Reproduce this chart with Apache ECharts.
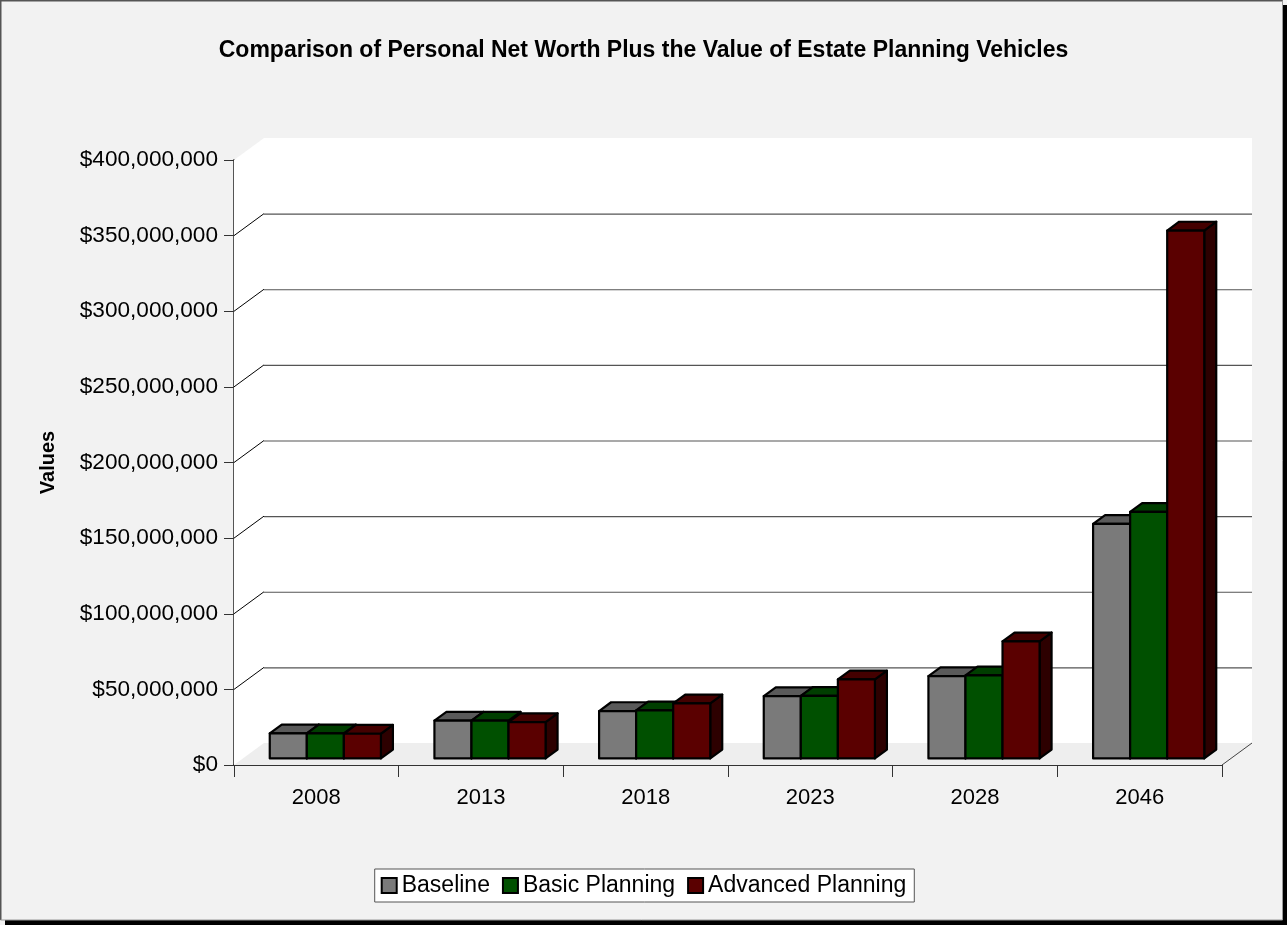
<!DOCTYPE html>
<html>
<head>
<meta charset="utf-8">
<script src="https://cdn.jsdelivr.net/npm/echarts@6/dist/echarts.min.js"></script>
<style>html,body{margin:0;padding:0;background:#f2f2f2;}#c{width:1287px;height:925px;}</style>
</head>
<body>
<div id="c"></div>
<script>
const categories = ['2008', '2013', '2018', '2023', '2028', '2046'];
const baseline = [16.5e6, 25e6, 31.3e6, 41.2e6, 54.4e6, 155e6];
const basicPlanning = [16.5e6, 25e6, 31.7e6, 41.3e6, 54.9e6, 163e6];
const advancedPlanning = [16.3e6, 24e6, 36.4e6, 52.2e6, 77.4e6, 349e6];
const seriesNames = ['Baseline', 'Basic Planning', 'Advanced Planning'];
const yMax = 400e6, yStep = 50e6;
const yTicks = [0, 50e6, 100e6, 150e6, 200e6, 250e6, 300e6, 350e6, 400e6];

const FONT = 'Liberation Sans, Arial, sans-serif';
const WALL_DX = 30, WALL_DY = -22;
const faceColors = [
  {front: '#7a7a7a', top: '#5a5a5a', side: '#3c3c3c'},
  {front: '#005000', top: '#003e00', side: '#002800'},
  {front: '#5a0000', top: '#440000', side: '#2d0000'}
];

function money(v) {
  return '$' + Math.round(v).toLocaleString('en-US');
}

function barRenderer(sIdx) {
  return function (params, api) {
    const ci = api.value(0), v = api.value(1);
    const base = api.coord([ci, 0]);
    const top = api.coord([ci, v]);
    const band = api.size([1, 0])[0];
    const w = band * 0.225;
    const sx = WALL_DX * 0.3, sy = WALL_DY * 0.3;
    const dx = WALL_DX * 0.4, dy = WALL_DY * 0.4;
    const x0 = base[0] - 1.5 * w + sIdx * w + sx;
    const x1 = x0 + w;
    const yb = base[1] + sy, yt = top[1] + sy;
    const c = faceColors[sIdx];
    const st = {stroke: '#000', lineWidth: 2.2, lineJoin: 'round'};
    return {
      type: 'group',
      children: [
        {type: 'polygon', shape: {points: [[x1, yt], [x1 + dx, yt + dy], [x1 + dx, yb + dy], [x1, yb]]},
          style: Object.assign({fill: c.side}, st)},
        {type: 'polygon', shape: {points: [[x0, yt], [x0 + dx, yt + dy], [x1 + dx, yt + dy], [x1, yt]]},
          style: Object.assign({fill: c.top}, st)},
        {type: 'rect', shape: {x: x0, y: yt, width: w, height: yb - yt},
          style: Object.assign({fill: c.front}, st)}
      ]
    };
  };
}

const seriesData = [baseline, basicPlanning, advancedPlanning];

const chart = echarts.init(document.getElementById('c'), null, {renderer: 'canvas'});
const option = {
  backgroundColor: '#f2f2f2',
  animation: false,
  title: {
    text: 'Comparison of Personal Net Worth Plus the Value of Estate Planning Vehicles',
    left: 'center', top: 34,
    textStyle: {fontFamily: FONT, fontSize: 23, fontWeight: 'bold', color: '#000'}
  },
  legend: {
    data: seriesNames,
    left: 'center', top: 869,
    backgroundColor: '#fff', borderColor: '#555', borderWidth: 1,
    padding: [5, 8, 5, 6], itemGap: 12, itemWidth: 15, itemHeight: 15,
    icon: 'rect',
    itemStyle: {borderColor: '#000', borderWidth: 2},
    textStyle: {fontFamily: FONT, fontSize: 23, color: '#000'}
  },
  grid: {left: 234, right: 65, top: 160, bottom: 160, containLabel: false},
  xAxis: {
    type: 'category', data: categories, boundaryGap: true,
    axisLine: {show: true, lineStyle: {color: '#333', width: 2}},
    axisTick: {show: true, length: 12, lineStyle: {color: '#333', width: 1}},
    axisLabel: {fontFamily: FONT, fontSize: 22, color: '#000', margin: 22},
    splitLine: {show: false}
  },
  yAxis: {
    type: 'value', min: 0, max: yMax, interval: yStep,
    name: 'Values', nameLocation: 'middle', nameRotate: 90, nameGap: 176,
    nameTextStyle: {fontFamily: FONT, fontSize: 20, fontWeight: 'bold', color: '#000'},
    axisLine: {show: true, lineStyle: {color: '#555', width: 2}},
    axisTick: {show: true, length: 10, lineStyle: {color: '#333', width: 1}},
    axisLabel: {fontFamily: FONT, fontSize: 22.6, color: '#000', margin: 16, formatter: money},
    splitLine: {show: false}
  },
  graphic: [
    {type: 'rect', shape: {x: 5, y: 920, width: 1282, height: 5}, style: {fill: '#000'}, silent: true},
    {type: 'rect', shape: {x: 1283, y: 5, width: 4, height: 920}, style: {fill: '#000'}, silent: true},
    {type: 'polyline', shape: {points: [[0.5, 920], [0.5, 0.5], [1283, 0.5]]}, style: {stroke: '#555', lineWidth: 2, fill: null}, silent: true},
    {type: 'polyline', shape: {points: [[1282.5, 0.5], [1282.5, 920], [0.5, 920]]}, style: {stroke: '#999', lineWidth: 1, fill: null}, silent: true}
  ],
  series: [
    {
      name: 'walls', type: 'custom', silent: true, z: 1,
      data: [[0, yMax]],
      renderItem: function (params, api) {
        const cs = params.coordSys;
        const yT = api.coord([0, yMax])[1];
        const yB = api.coord([0, 0])[1];
        const L = cs.x, R = cs.x + cs.width;
        return {
          type: 'group',
          children: [
            {type: 'polygon', shape: {points: [[L, yT], [L + WALL_DX, yT + WALL_DY], [R + WALL_DX, yT + WALL_DY], [R + WALL_DX, yB + WALL_DY], [L, yB]]},
              style: {fill: '#ffffff'}},
            {type: 'polygon', shape: {points: [[L, yB], [L + WALL_DX, yB + WALL_DY], [R + WALL_DX, yB + WALL_DY], [R, yB]]},
              style: {fill: '#eeeeee'}},
            {type: 'line', shape: {x1: R, y1: yB, x2: R + WALL_DX, y2: yB + WALL_DY},
              style: {stroke: '#444', lineWidth: 1}}
          ]
        };
      }
    },
    {
      name: 'gridlines', type: 'custom', silent: true, z: 2,
      data: yTicks.filter(v => v > 0 && v < yMax).map(v => [0, v]),
      renderItem: function (params, api) {
        const cs = params.coordSys;
        const y = api.coord([0, api.value(1)])[1];
        const L = cs.x, R = cs.x + cs.width;
        return {
          type: 'group',
          children: [
            {type: 'line', shape: {x1: L, y1: y, x2: L + WALL_DX, y2: y + WALL_DY},
              style: {stroke: '#000', lineWidth: 1}},
            {type: 'line', shape: {x1: L + WALL_DX, y1: y + WALL_DY + 0.5, x2: R + WALL_DX, y2: y + WALL_DY + 0.5},
              style: {stroke: '#555', lineWidth: 1.2}}
          ]
        };
      }
    }
  ].concat(seriesNames.map((name, s) => ({
    name: name, type: 'custom', z: 3,
    itemStyle: {color: faceColors[s].front},
    encode: {x: 0, y: 1},
    data: seriesData[s].map((v, i) => [i, v]),
    renderItem: barRenderer(s)
  })))
};
chart.setOption(option);
</script>
</body>
</html>
